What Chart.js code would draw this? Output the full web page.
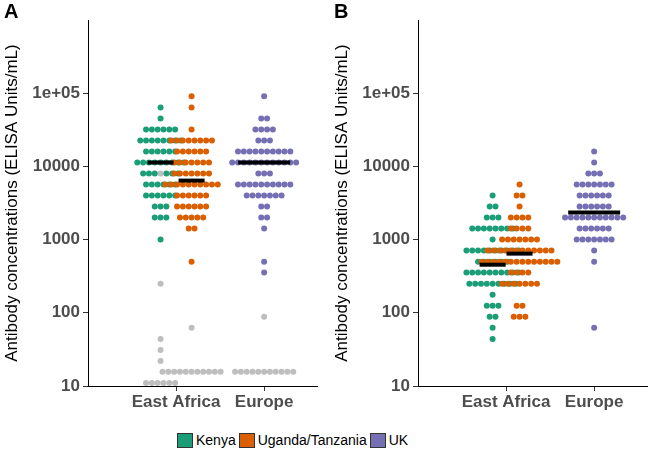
<!DOCTYPE html>
<html>
<head>
<meta charset="utf-8">
<script src="https://cdn.jsdelivr.net/npm/chart.js@4.4.0/dist/chart.umd.min.js"></script>
<style>
  body { margin: 0; background: #fff; font-family: "Liberation Sans", Arial, sans-serif; }
  #wrap { position: relative; width: 650px; height: 458px; overflow: hidden; }
  .panel { position: absolute; top: 0; width: 330px; height: 420px; }
  .tag { position: absolute; top: 0; font-weight: bold; font-size: 20px; color: #000; }
  #legend { position: absolute; top: 432px; left: 177px; display: flex; align-items: center; font-size: 14px; color: #000; }
  #legend span.key { display: inline-block; width: 14px; height: 13px; border: 1px solid #333; margin-right: 3px; }
  #legend span.lab { margin-right: 3px; }
</style>
</head>
<body>
<div id="wrap">
  <div class="panel" style="left:0"><canvas id="chartA" width="330" height="420"></canvas></div>
  <div class="panel" style="left:330px"><canvas id="chartB" width="320" height="420"></canvas></div>
  <div class="tag" style="left:4px">A</div>
  <div class="tag" style="left:334px">B</div>
  <div id="legend">
    <span class="key" style="background:#1b9e77"></span><span class="lab">Kenya</span>
    <span class="key" style="background:#d95f02"></span><span class="lab">Uganda/Tanzania</span>
    <span class="key" style="background:#7570b3"></span><span class="lab">UK</span>
  </div>
</div>
<script>
// two-fold dilution steps (1000 * 2^(k/2), k = -13..13), one row of dots each
const levels = [11, 15.6, 22, 31, 44, 62.5, 88, 125, 177, 250, 354, 500, 707, 1000, 1414,
                2000, 2828, 4000, 5657, 8000, 11314, 16000, 22627, 32000, 45255, 64000, 90510];

const categories = ['East Africa', 'Europe'];
const yTicks = [10, 100, 1000, 10000, 100000];
const yTickLabels = ['10', '100', '1000', '10000', '1e+05'];

// dots per level (low -> high), panel A
const kenyaA       = [0,0,0,0,0,0,0,0,0,0,0,0,0,1,0,3,3,6,6,6,9,6,8,6,1,1,0];
const kenyaGreyA   = [6,0,1,1,1,0,0,0,0,1,0,0,0,0,0,0,0,0,0,1,0,0,0,0,0,0,0];
const ugandaA      = [0,0,0,0,0,0,0,0,0,0,0,1,0,0,2,5,6,6,10,7,7,6,8,1,0,1,1];
const ugandaGreyA  = [0,11,0,0,0,1,0,0,0,0,0,0,0,0,0,0,0,0,0,0,0,0,0,0,0,0,0];
const ukA          = [0,0,0,0,0,0,0,0,0,0,1,1,0,0,1,2,2,7,10,3,12,10,3,4,2,0,1];
const ukGreyA      = [0,11,0,0,0,0,1,0,0,0,0,0,0,0,0,0,0,0,0,0,0,0,0,0,0,0,0];
// medians: Kenya, Uganda/Tanzania, UK
const mediansA = [11300, 6400, 11300];

// panel B
const kenyaB  = [0,0,0,0,1,1,2,3,1,9,10,6,10,1,8,3,2,1,0,0,0,0,0,0,0,0,0];
const ugandaB = [0,0,0,0,0,0,3,2,0,7,4,14,12,7,4,4,1,2,1,0,0,0,0,0,0,0,0];
const ukB     = [0,0,0,0,0,1,0,0,0,0,0,1,1,7,6,11,6,6,7,3,1,1,0,0,0,0,0];
const mediansB = [454, 643, 2345];

const GREEN = '#1b9e77', ORANGE = '#d95f02', PURPLE = '#7570b3', GREY = '#bebebe';
const FONT = '"Liberation Sans", Arial, sans-serif';
const STEP = 0.066;   // horizontal spacing of stacked dots, x units

// centre each row of dots on the group's x; grey (below cut-off) dots go in the middle
function stack(center, pos, grey) {
  const colored = [], greys = [];
  levels.forEach((v, i) => {
    const p = pos[i], g = grey ? grey[i] : 0, n = p + g;
    const half = Math.floor(p / 2);
    for (let j = 0; j < n; j++) {
      const pt = { x: center + (j - (n - 1) / 2) * STEP, y: v };
      if (j >= half && j < half + g) greys.push(pt); else colored.push(pt);
    }
  });
  return [colored, greys];
}

function dots(data, color) {
  return { type: 'scatter', data: data, backgroundColor: color, borderWidth: 0, pointRadius: 3, pointHoverRadius: 3 };
}

function median(x, half, v) {
  return { type: 'line', data: [{ x: x - half, y: v }, { x: x + half, y: v }],
           borderColor: '#000', borderWidth: 4, pointRadius: 0, borderCapStyle: 'butt' };
}

function makeChart(id, kenya, kenyaGrey, uganda, ugandaGrey, uk, ukGrey, medians, dodge, padRight) {
  const [k, kg] = stack(1 - dodge, kenya, kenyaGrey);
  const [u, ug] = stack(1 + dodge, uganda, ugandaGrey);
  const [e, eg] = stack(2, uk, ukGrey);
  // first dataset is drawn on top
  const datasets = [
    median(1 - dodge, 0.148, medians[0]),
    median(1 + dodge, 0.148, medians[1]),
    median(2, 0.295, medians[2]),
    dots(e, PURPLE), dots(eg, GREY),
    dots(u, ORANGE), dots(ug, GREY),
    dots(k, GREEN), dots(kg, GREY)
  ];
  return new Chart(document.getElementById(id), {
    type: 'scatter',
    data: { datasets: datasets },
    options: {
      responsive: false,
      animation: false,
      events: [],
      layout: { padding: { top: 20, right: padRight, bottom: 0, left: 0 } },
      plugins: { legend: { display: false }, tooltip: { enabled: false } },
      scales: {
        x: {
          type: 'linear', min: 0, max: 2.6,
          afterBuildTicks: s => { s.ticks = [{ value: 1 }, { value: 2 }]; },
          afterFit: s => { s.height = 34; },
          ticks: { callback: (v, i) => categories[i], autoSkip: false, maxRotation: 0,
                   color: '#4d4d4d', padding: 1, font: { family: FONT, size: 17, weight: 'bold' } },
          grid: { drawOnChartArea: false, drawTicks: true, tickLength: 5, tickColor: '#333', tickWidth: 1 },
          border: { display: true, color: '#000', width: 1 }
        },
        y: {
          type: 'logarithmic', min: 10, max: 1000000,
          afterBuildTicks: s => { s.ticks = yTicks.map(v => ({ value: v })); },
          afterFit: s => { s.width = 88; },
          ticks: { callback: (v, i) => yTickLabels[i], autoSkip: false,
                   color: '#4d4d4d', padding: 3, font: { family: FONT, size: 17, weight: 'bold' } },
          grid: { drawOnChartArea: false, drawTicks: true, tickLength: 5, tickColor: '#333', tickWidth: 1 },
          border: { display: true, color: '#000', width: 1 },
          title: { display: true, text: 'Antibody concentrations (ELISA Units/mL)', color: '#000',
                   padding: { top: 2, bottom: 0 }, font: { family: FONT, size: 17 } }
        }
      }
    }
  });
}

makeChart('chartA', kenyaA, kenyaGreyA, ugandaA, ugandaGreyA, ukA, ukGreyA, mediansA, 0.176, 13);
makeChart('chartB', kenyaB, null, ugandaB, null, ukB, null, mediansB, 0.153, 3);
</script>
</body>
</html>
